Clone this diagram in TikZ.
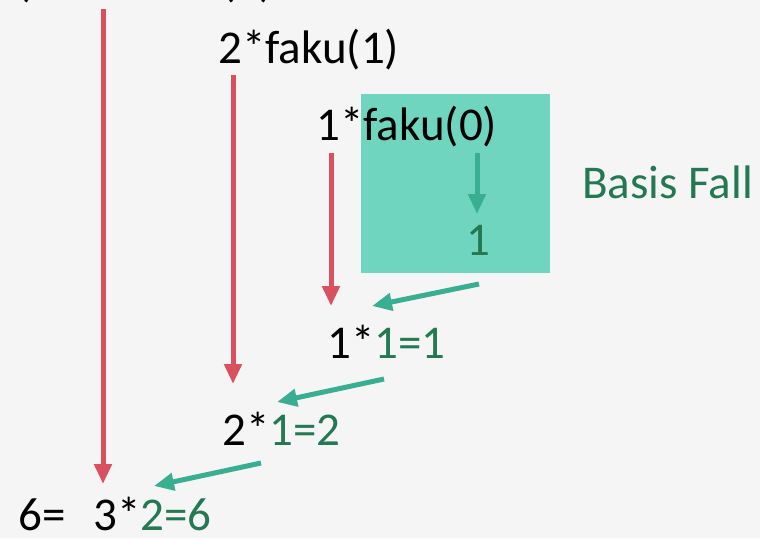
\documentclass[tikz,border=0pt]{standalone}
\usepackage{fontspec}
\setmainfont{Carlito}
\usetikzlibrary{arrows.meta}
\definecolor{bgc}{RGB}{245,245,245}
\definecolor{redc}{RGB}{217,80,94}
\definecolor{tealc}{RGB}{58,174,145}
\definecolor{boxc}{RGB}{112,213,191}
\definecolor{greenc}{RGB}{36,120,82}
\tikzset{
  txt/.style={inner sep=0pt, font=\fontsize{47}{50}\selectfont, text=black},
  gtxt/.style={txt, text=greenc},
  redarrow/.style={draw=redc, line width=5pt, -{Triangle[length=20pt,width=17pt]}},
  tealarrow/.style={draw=tealc, line width=5pt, -{Triangle[length=20pt,width=17pt]}},
}
\begin{document}
\begin{tikzpicture}[x=1pt,y=-1pt]
\useasboundingbox (0,0) rectangle (760,538);
\clip (0,0) rectangle (760,538);
\fill[bgc] (0,0) rectangle (760,538);
% basis box
\fill[boxc] (361,94) rectangle (550,273);
% texts
\node[txt, anchor=base east] (t0) at (60,-3) {faku(3)=};
\node[txt, anchor=base west] (t1) at (93,-3) {3*faku(2)};
\node[txt, anchor=base west] (t2) at (218,63) {2*faku(1)};
\node[txt, anchor=base west] (t3) at (316,140) {1*faku(0)};
\node[gtxt, anchor=base] (one) at (478,255) {1};
\node[gtxt, anchor=base west] (basis) at (582,198) {Basis Fall};
\node[txt, anchor=base west] (r3) at (327,358) {1*\textcolor{greenc}{1=1}};
\node[txt, anchor=base west] (r2) at (222,445) {2*\textcolor{greenc}{1=2}};
\node[txt, anchor=base west] (r0) at (18,530) {6=};
\node[txt, anchor=base west] (r1) at (93,530) {3*\textcolor{greenc}{2=6}};
% coordinates
\coordinate (a1s) at (103,9);   \coordinate (a1e) at (103,484);
\coordinate (a2s) at (233,75);  \coordinate (a2e) at (233,384);
\coordinate (a3s) at (331,153); \coordinate (a3e) at (331,306);
\coordinate (bs) at (477,153);  \coordinate (be) at (477,214);
\coordinate (tAs) at (479,284); \coordinate (tAe) at (372,306);
\coordinate (tBs) at (384,379); \coordinate (tBe) at (277,402);
\coordinate (tCs) at (261,463); \coordinate (tCe) at (154,486);
% arrows
\draw[redarrow] (a1s) -- (a1e);
\draw[redarrow] (a2s) -- (a2e);
\draw[redarrow] (a3s) -- (a3e);
\draw[tealarrow] (bs) -- (be);
\draw[tealarrow] (tAs) -- (tAe);
\draw[tealarrow] (tBs) -- (tBe);
\draw[tealarrow] (tCs) -- (tCe);
\end{tikzpicture}
\end{document}
